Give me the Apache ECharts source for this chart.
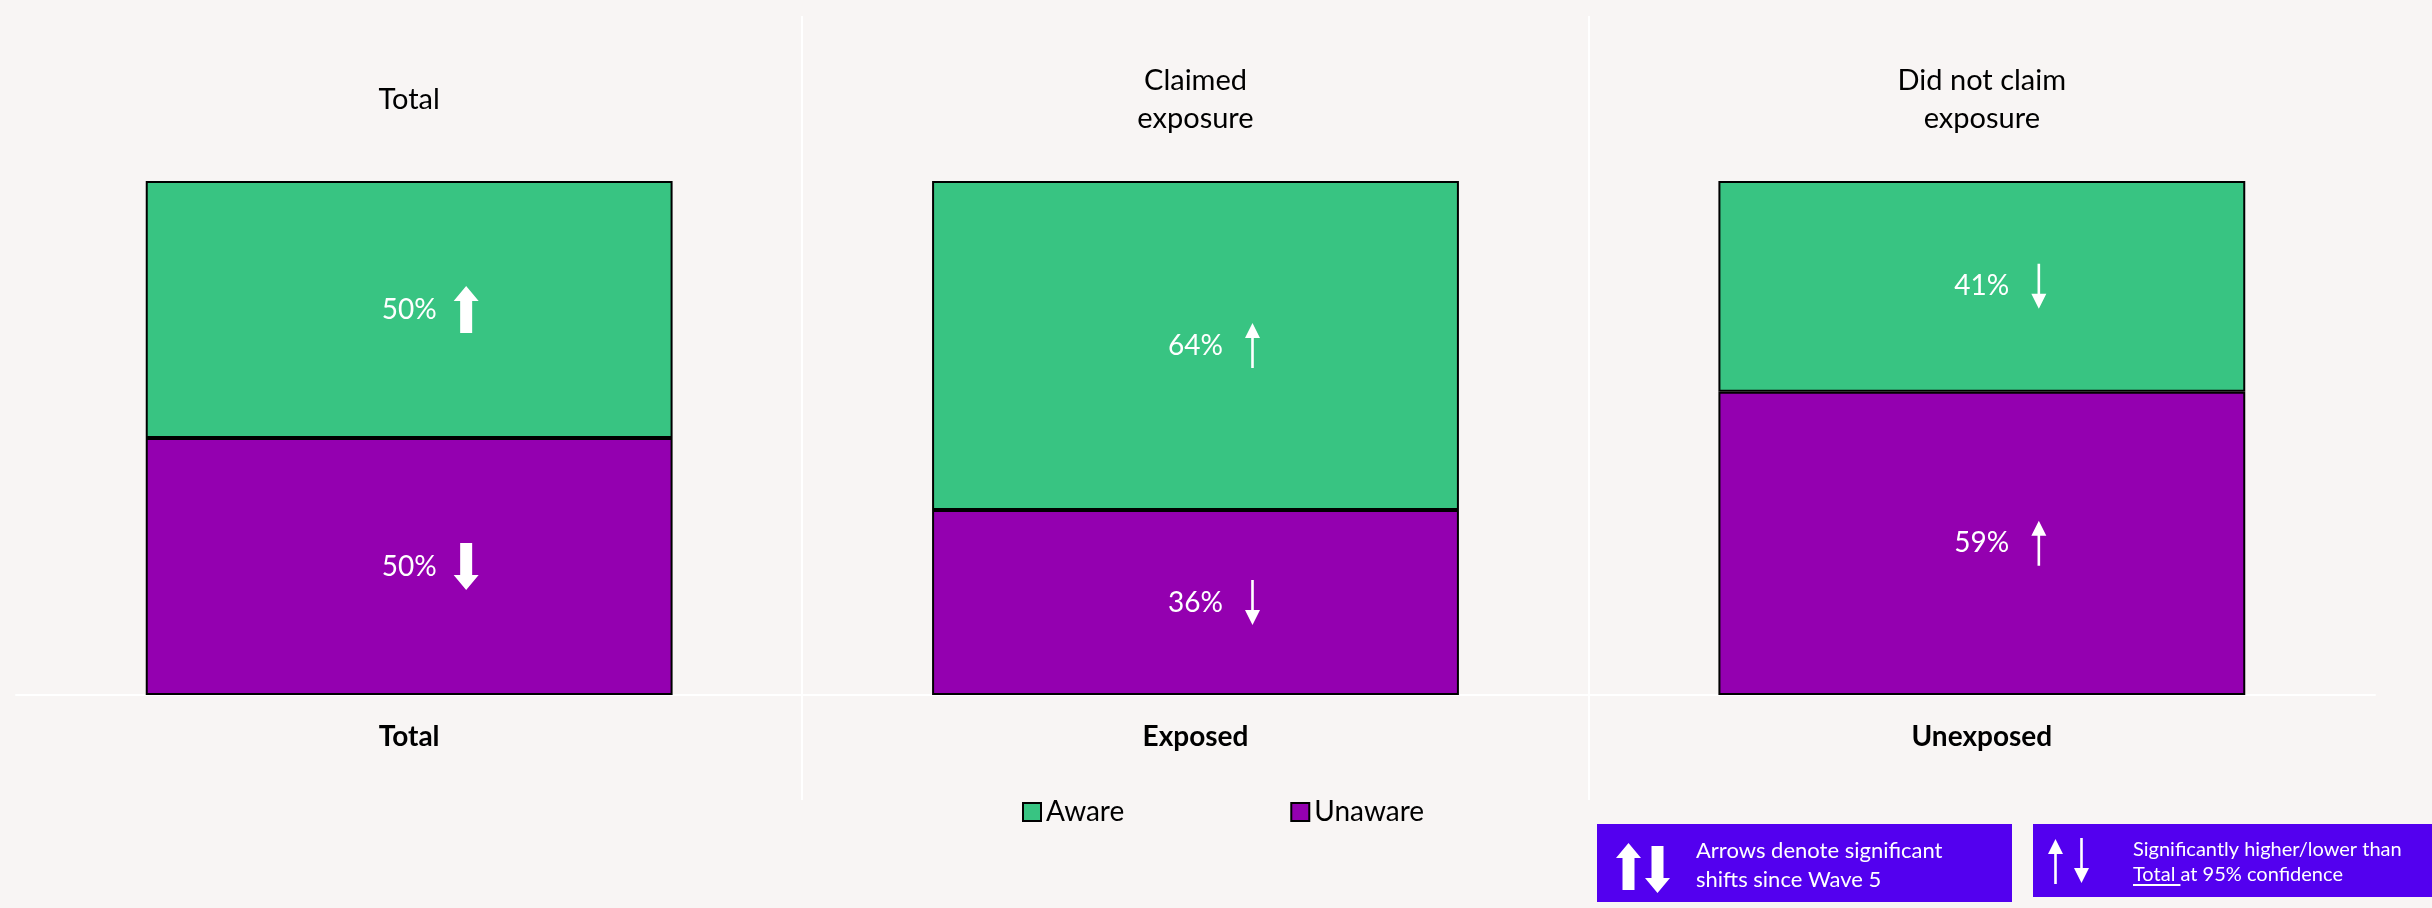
<!DOCTYPE html>
<html>
<head>
<meta charset="utf-8">
<script src="https://cdn.jsdelivr.net/npm/echarts@6/dist/echarts.min.js"></script>
<style>
  html, body { margin: 0; padding: 0; background: #f8f5f4; }
  #chart { width: 2432px; height: 908px; }
</style>
</head>
<body>
<div id="chart"></div>
<script>
// Awareness split by exposure group
const categories = ['Total', 'Exposed', 'Unexposed'];
const groupTitles = ['Total', 'Claimed\nexposure', 'Did not claim\nexposure'];
const seriesNames = ['Aware', 'Unaware'];
const awareValues = [50, 64, 41];
const unawareValues = [50, 36, 59];
// significance markers: direction per bar segment, and which test it refers to
const awareShift = ['up', 'up', 'down'];
const unawareShift = ['down', 'down', 'up'];
const arrowKind = ['bold', 'thin', 'thin']; // bold = vs Wave 5, thin = vs Total
const noteShift = 'Arrows denote significant\nshifts since Wave 5';
const noteTotal = 'Significantly higher/lower than\nTotal at 95% confidence';

const FONT = 'Lato, "Open Sans", sans-serif';
const GREEN = '#38c482';
const PURPLE = '#9400b0';
const NOTE_BG = '#5300ef';
const BG = '#f8f5f4';

// arrow outlines as point lists (width x height box, origin top-left)
const ARROW_PTS = {
  bold_up: [[12.5,0],[25,15],[18.5,15],[18.5,47],[6.5,47],[6.5,15],[0,15]],
  bold_down: [[6.5,0],[18.5,0],[18.5,32],[25,32],[12.5,47],[0,32],[6.5,32]],
  thin_up: [[7.5,0],[15,15],[8.8,15],[8.8,45],[6.2,45],[6.2,15],[0,15]],
  thin_down: [[6.2,0],[8.8,0],[8.8,30],[15,30],[7.5,45],[0,30],[6.2,30]]
};
const ARROW_SIZE = { bold: [25, 47], thin: [15, 45] };
const toPath = pts => 'path://M' + pts.map(p => p[0] + ',' + p[1]).join(' L') + ' Z';

// arrow markers sit at the middle of each stacked segment
const arrowData = [];
categories.forEach((c, i) => {
  const k = arrowKind[i];
  arrowData.push({
    value: [i, unawareValues[i] + awareValues[i] / 2],
    symbol: toPath(ARROW_PTS[k + '_' + awareShift[i]]), symbolSize: ARROW_SIZE[k]
  });
  arrowData.push({
    value: [i, unawareValues[i] / 2],
    symbol: toPath(ARROW_PTS[k + '_' + unawareShift[i]]), symbolSize: ARROW_SIZE[k]
  });
});

const chart = echarts.init(document.getElementById('chart'), null, { renderer: 'canvas' });

const barItem = (color) => ({ color: color, borderColor: '#000', borderWidth: 2 });
const barLabel = {
  show: true, position: 'inside', color: '#fff', fontFamily: FONT, fontSize: 28,
  formatter: '{c}%'
};

chart.setOption({
  backgroundColor: BG,
  animation: false,
  textStyle: { fontFamily: FONT },
  grid: { left: 16, right: 57, top: 181, bottom: 213 },
  legend: {
    data: seriesNames,
    left: 1017, top: 793,
    itemWidth: 18, itemHeight: 18, itemGap: 166,
    icon: 'rect',
    textStyle: { fontFamily: FONT, fontSize: 28, color: '#000' }
  },
  xAxis: [
    {
      type: 'category', data: categories, position: 'bottom',
      axisLine: { lineStyle: { color: '#ffffff', width: 2 } },
      axisTick: { show: false },
      axisLabel: {
        fontFamily: FONT, fontSize: 28, fontWeight: 'bold', color: '#000',
        verticalAlign: 'middle', margin: 42
      }
    },
    {
      type: 'category', data: groupTitles, position: 'top',
      axisLine: { show: false }, axisTick: { show: false },
      axisLabel: {
        fontFamily: FONT, fontSize: 29, lineHeight: 38, color: '#000',
        verticalAlign: 'middle', margin: 81
      }
    }
  ],
  yAxis: { type: 'value', min: 0, max: 100, show: false },
  series: [
    {
      name: 'Unaware', type: 'bar', stack: 'share', barWidth: '67%',
      data: unawareValues, itemStyle: barItem(PURPLE), label: barLabel
    },
    {
      name: 'Aware', type: 'bar', stack: 'share', barWidth: '67%',
      data: awareValues, itemStyle: barItem(GREEN), label: barLabel
    },
    {
      name: 'significance', type: 'scatter', data: arrowData,
      symbolOffset: [57, 0], itemStyle: { color: '#ffffff', opacity: 1 },
      silent: true, z: 5
    }
  ]
});

// panel dividers at category band boundaries
const c0 = chart.convertToPixel({ xAxisIndex: 0 }, 0);
const c1 = chart.convertToPixel({ xAxisIndex: 0 }, 1);
const c2 = chart.convertToPixel({ xAxisIndex: 0 }, 2);
const dividers = [(c0 + c1) / 2, (c1 + c2) / 2].map(x => ({
  type: 'line', silent: true, z: 0,
  shape: { x1: Math.round(x), y1: 16, x2: Math.round(x), y2: 800 },
  style: { stroke: '#ffffff', lineWidth: 2 }
}));

// measure underline width for "Total" in the second note
const NOTE2_SIZE = 20;
const ctx = document.createElement('canvas').getContext('2d');
ctx.font = NOTE2_SIZE + 'px ' + FONT;
const totalW = ctx.measureText('Total ').width;

const whiteArrow = (key, x, y) => ({
  type: 'polygon', silent: true,
  shape: { points: ARROW_PTS[key].map(p => [p[0] + x, p[1] + y]) },
  style: { fill: '#fff' }
});

chart.setOption({
  graphic: dividers.concat([
    {
      type: 'group', x: 1597, y: 824, silent: true,
      children: [
        { type: 'rect', shape: { x: 0, y: 0, width: 415, height: 78 }, style: { fill: NOTE_BG } },
        whiteArrow('bold_up', 19, 19),
        whiteArrow('bold_down', 48, 22),
        { type: 'text', x: 99, y: 12, style: { text: noteShift, fill: '#fff', font: '22px ' + FONT, lineHeight: 29 } }
      ]
    },
    {
      type: 'group', x: 2033, y: 824, silent: true,
      children: [
        { type: 'rect', shape: { x: 0, y: 0, width: 399, height: 73 }, style: { fill: NOTE_BG } },
        whiteArrow('thin_up', 15, 15),
        whiteArrow('thin_down', 41, 14),
        { type: 'text', x: 100, y: 13, style: { text: noteTotal, fill: '#fff', font: NOTE2_SIZE + 'px ' + FONT, lineHeight: 25 } },
        { type: 'line', shape: { x1: 100, y1: 61, x2: 100 + totalW, y2: 61 }, style: { stroke: '#fff', lineWidth: 2 } }
      ]
    }
  ])
});
</script>
</body>
</html>
